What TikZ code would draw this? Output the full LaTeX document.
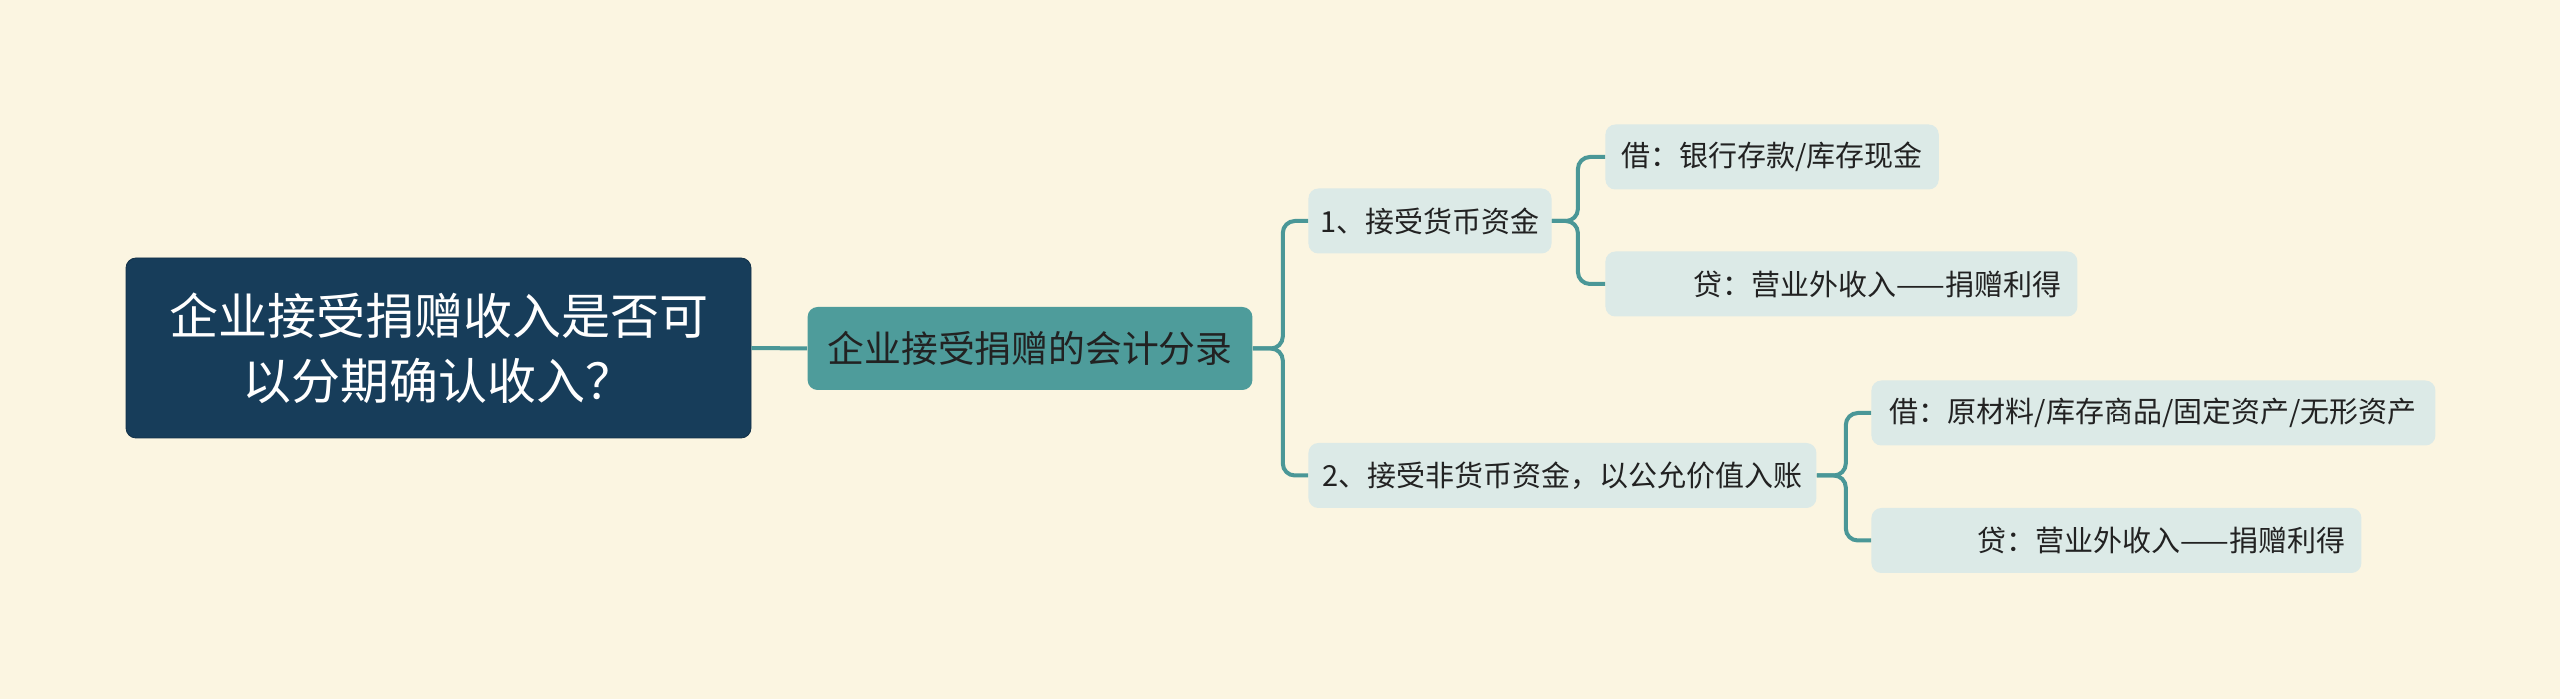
\documentclass[tikz,border=0pt]{standalone}
\usepackage{fontspec}
\setmainfont{Noto Sans CJK SC}

\definecolor{cream}{HTML}{FBF5E1}
\definecolor{navy}{HTML}{173D5A}
\definecolor{teal}{HTML}{4E9C9B}
\definecolor{pale}{HTML}{DCEAE7}
\definecolor{wire}{HTML}{4A9797}
\definecolor{ink}{HTML}{222222}

\tikzstyle{link} = [line width=2pt, draw=wire, rounded corners=6pt]
\tikzstyle{rootbox} = [fill=navy, draw=navy!80!black, rounded corners=5pt, text=white, align=center, minimum width=312.5pt, minimum height=90pt, font=\fontsize{24.5}{32.5}\selectfont]
\tikzstyle{mainbox} = [fill=teal, rounded corners=5pt, text=ink, inner xsep=10pt, minimum height=41.5pt, font=\fontsize{18.4}{22}\selectfont]
\tikzstyle{subbox} = [fill=pale, rounded corners=5pt, text=ink, inner xsep=8pt, minimum height=32.5pt, anchor=west, font=\fontsize{14.5}{18}\selectfont]

\begin{document}
\begin{tikzpicture}[x=0.5pt, y=-0.5pt]
\fill [cream] (0,0) rectangle (2560,699);

\node (root) [rootbox] at (438.5,348) {企业接受捐赠收入是否可\\以分期确认收入？};
\node (main) [mainbox, minimum width=222pt] at (1030,348.5) {企业接受捐赠的会计分录};

\node (cash) [subbox, minimum width=121pt, inner xsep=6pt] at (1308,221) {1、接受货币资金};
\node (goods) [subbox, minimum width=254pt, inner xsep=6pt] at (1308,475.5) {2、接受非货币资金，以公允价值入账};

\node (cashdr) [subbox] at (1605,157) {借：银行存款/库存现金};
\node (cashcr) [subbox, text width=220pt, align=right] at (1605,284) {贷：营业外收入——捐赠利得};
\node (goodsdr) [subbox, minimum width=282pt] at (1871,413) {借：原材料/库存商品/固定资产/无形资产};
\node (goodscr) [subbox, text width=229pt, align=right] at (1871,540.5) {贷：营业外收入——捐赠利得};

\draw [link] (root.east) -- (main.west);
\draw [link] (main.east) -- ++(30,0) |- (cash.west);
\draw [link] (main.east) -- ++(30,0) |- (goods.west);
\draw [link] (cash.east) -- ++(26,0) |- (cashdr.west);
\draw [link] (cash.east) -- ++(26,0) |- (cashcr.west);
\draw [link] (goods.east) -- ++(29,0) |- (goodsdr.west);
\draw [link] (goods.east) -- ++(29,0) |- (goodscr.west);

\end{tikzpicture}
\end{document}
